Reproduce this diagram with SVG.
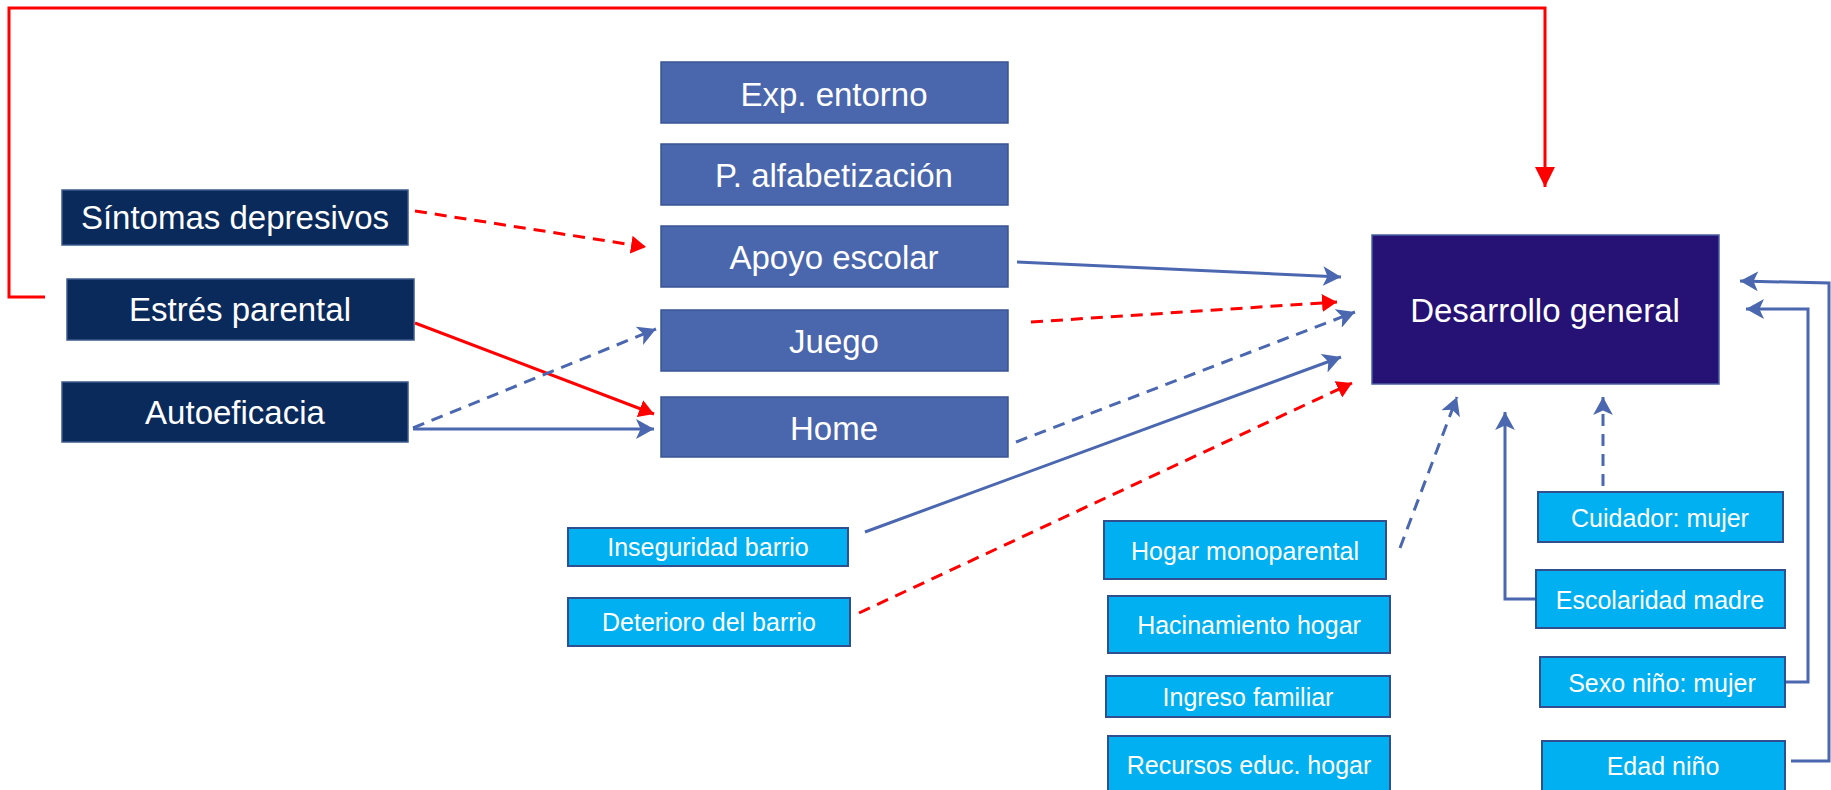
<svg xmlns="http://www.w3.org/2000/svg" width="1831" height="790" viewBox="0 0 1831 790">
<style>
.dark rect{fill:#0a2a5c;stroke:#3d5a8c;stroke-width:1.5}
.mid rect{fill:#4a66ac;stroke:#3a5594;stroke-width:1.5}
.main rect{fill:#261275;stroke:#4a5fa0;stroke-width:1.5}
.cyan rect{fill:#00b0f0;stroke:#2f4f8f;stroke-width:2}
text{font-family:"Liberation Sans",Arial,sans-serif;fill:#ffffff;text-anchor:middle}
.big{font-size:33px}
.small{font-size:25px}
.red{stroke:#ff0000;fill:none;stroke-width:3}
.blue{stroke:#4a67b0;fill:none;stroke-width:3}
.dash{stroke-dasharray:12 8}
</style>
<defs>
<marker id="ar" viewBox="0 0 10 12" refX="10" refY="6" markerUnits="userSpaceOnUse" markerWidth="15" markerHeight="18" orient="auto"><path d="M0,0 L10,6 L0,12 z" fill="#ff0000"/></marker>
<marker id="arBig" viewBox="0 0 10 10" refX="10" refY="5" markerUnits="userSpaceOnUse" markerWidth="20" markerHeight="20" orient="auto"><path d="M0,0 L10,5 L0,10 z" fill="#ff0000"/></marker>
<marker id="ab" viewBox="0 0 10 11" refX="10" refY="5.5" markerUnits="userSpaceOnUse" markerWidth="18" markerHeight="20" orient="auto"><path d="M0,0 L10,5.5 L0,11 L2.5,5.5 z" fill="#4a67b0"/></marker>
</defs>

<g id="connectors">
<polyline class="red" stroke-width="2" points="45,297 9,297 9,8 1545,8 1545,187" marker-end="url(#arBig)"/>
<line class="red dash" x1="415" y1="211" x2="646" y2="247" marker-end="url(#ar)"/>
<line class="red" x1="415" y1="323" x2="654" y2="414" marker-end="url(#ar)"/>
<line class="blue dash" x1="413" y1="428" x2="656" y2="329" marker-end="url(#ab)"/>
<line class="blue" x1="413" y1="429" x2="654" y2="429" marker-end="url(#ab)"/>
<line class="blue" x1="1017" y1="262" x2="1341" y2="277" marker-end="url(#ab)"/>
<line class="red dash" x1="1031" y1="322" x2="1337" y2="302" marker-end="url(#ar)"/>
<line class="blue dash" x1="1016" y1="442" x2="1355" y2="312" marker-end="url(#ab)"/>
<line class="blue" x1="865" y1="532" x2="1341" y2="357" marker-end="url(#ab)"/>
<line class="red dash" x1="859" y1="613" x2="1352" y2="383" marker-end="url(#ar)"/>
<line class="blue dash" x1="1400" y1="548" x2="1457" y2="397" marker-end="url(#ab)"/>
<polyline class="blue" points="1536,599 1505,599 1505,412" marker-end="url(#ab)"/>
<line class="blue dash" x1="1603" y1="486" x2="1603" y2="397" marker-end="url(#ab)"/>
<polyline class="blue" points="1785,682 1808,682 1808,309 1746,309" marker-end="url(#ab)"/>
<polyline class="blue" points="1791,761 1829,761 1829,283 1740,281" marker-end="url(#ab)"/>
</g>

<g id="sintomas" class="dark"><rect x="62" y="190" width="346" height="55"/><text class="big" x="235" y="229">Síntomas depresivos</text></g>
<g id="estres" class="dark"><rect x="67" y="279" width="347" height="61"/><text class="big" x="240" y="321">Estrés parental</text></g>
<g id="autoeficacia" class="dark"><rect x="62" y="382" width="346" height="60"/><text class="big" x="235" y="424">Autoeficacia</text></g>

<g id="exp" class="mid"><rect x="661" y="62" width="347" height="61"/><text class="big" x="834" y="106">Exp. entorno</text></g>
<g id="palf" class="mid"><rect x="661" y="144" width="347" height="61"/><text class="big" x="834" y="187">P. alfabetización</text></g>
<g id="apoyo" class="mid"><rect x="661" y="226" width="347" height="61"/><text class="big" x="834" y="269">Apoyo escolar</text></g>
<g id="juego" class="mid"><rect x="661" y="310" width="347" height="61"/><text class="big" x="834" y="353">Juego</text></g>
<g id="home" class="mid"><rect x="661" y="397" width="347" height="60"/><text class="big" x="834" y="440">Home</text></g>

<g id="desarrollo" class="main"><rect x="1372" y="235" width="347" height="149"/><text class="big" x="1545" y="322">Desarrollo general</text></g>

<g id="inseguridad" class="cyan"><rect x="568" y="528" width="280" height="38"/><text class="small" x="708" y="556">Inseguridad barrio</text></g>
<g id="deterioro" class="cyan"><rect x="568" y="598" width="282" height="48"/><text class="small" x="709" y="631">Deterioro del barrio</text></g>
<g id="hogar" class="cyan"><rect x="1104" y="521" width="282" height="58"/><text class="small" x="1245" y="560">Hogar monoparental</text></g>
<g id="hacinamiento" class="cyan"><rect x="1108" y="596" width="282" height="57"/><text class="small" x="1249" y="634">Hacinamiento hogar</text></g>
<g id="ingreso" class="cyan"><rect x="1106" y="676" width="284" height="41"/><text class="small" x="1248" y="706">Ingreso familiar</text></g>
<g id="recursos" class="cyan"><rect x="1108" y="736" width="282" height="58"/><text class="small" x="1249" y="774">Recursos educ. hogar</text></g>
<g id="cuidador" class="cyan"><rect x="1538" y="492" width="245" height="50"/><text class="small" x="1660" y="527">Cuidador: mujer</text></g>
<g id="escolaridad" class="cyan"><rect x="1536" y="570" width="249" height="58"/><text class="small" x="1660" y="609">Escolaridad madre</text></g>
<g id="sexo" class="cyan"><rect x="1540" y="657" width="245" height="50"/><text class="small" x="1662" y="692">Sexo niño: mujer</text></g>
<g id="edad" class="cyan"><rect x="1542" y="741" width="243" height="52"/><text class="small" x="1663" y="775">Edad niño</text></g>
</svg>
